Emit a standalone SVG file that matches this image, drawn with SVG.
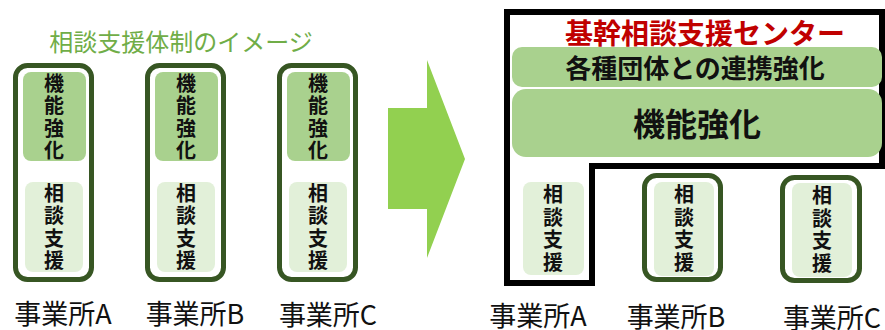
<svg xmlns="http://www.w3.org/2000/svg" width="885" height="330" viewBox="0 0 885 330">
<style>
text{font-family:"Noto Sans CJK JP","Noto Sans",sans-serif;text-anchor:middle;dominant-baseline:central}
.outer{fill:#fff;stroke:#375623;stroke-width:5}
.dk{fill:#a9d18e}
.lt{fill:#e2f0d9}
.v{font-size:20px;font-weight:bold;fill:#111}
.lbl{font-size:27px;fill:#111}
</style>
<rect width="885" height="330" fill="#fff"/>
<text x="181" y="40" font-size="24" fill="#70ad47">相談支援体制のイメージ</text>

<g id="officeA-left">
<rect class="outer" x="15.5" y="65.5" width="76" height="214" rx="12"/>
<rect class="dk" x="23" y="72" width="63" height="89" rx="8"/>
<rect class="lt" x="25" y="182" width="58" height="90" rx="8"/>
<text class="v" x="54" y="82">機</text><text class="v" x="54" y="104">能</text><text class="v" x="54" y="127">強</text><text class="v" x="54" y="149">化</text>
<text class="v" x="54" y="192">相</text><text class="v" x="54" y="214">談</text><text class="v" x="54" y="237">支</text><text class="v" x="54" y="259">援</text>
<text class="lbl" x="63" y="312">事業所A</text>
</g>
<g id="officeB-left" transform="translate(132,0)">
<rect class="outer" x="15.5" y="65.5" width="76" height="214" rx="12"/>
<rect class="dk" x="23" y="72" width="63" height="89" rx="8"/>
<rect class="lt" x="25" y="182" width="58" height="90" rx="8"/>
<text class="v" x="54" y="82">機</text><text class="v" x="54" y="104">能</text><text class="v" x="54" y="127">強</text><text class="v" x="54" y="149">化</text>
<text class="v" x="54" y="192">相</text><text class="v" x="54" y="214">談</text><text class="v" x="54" y="237">支</text><text class="v" x="54" y="259">援</text>
<text class="lbl" x="63" y="312">事業所B</text>
</g>
<g id="officeC-left" transform="translate(264,0)">
<rect class="outer" x="15.5" y="65.5" width="76" height="214" rx="12"/>
<rect class="dk" x="23" y="72" width="63" height="89" rx="8"/>
<rect class="lt" x="25" y="182" width="58" height="90" rx="8"/>
<text class="v" x="54" y="82">機</text><text class="v" x="54" y="104">能</text><text class="v" x="54" y="127">強</text><text class="v" x="54" y="149">化</text>
<text class="v" x="54" y="192">相</text><text class="v" x="54" y="214">談</text><text class="v" x="54" y="237">支</text><text class="v" x="54" y="259">援</text>
<text class="lbl" x="64" y="313">事業所C</text>
</g>

<g id="connectors">
<path d="M388,108 H427 V60 L465,159 L427,258 V209 H388 Z" fill="#92d050"/>
</g>

<g id="center">
<path d="M507,12 H882 V166 H592 V283 H507 Z" fill="#fff" stroke="#000" stroke-width="6"/>
<text x="705" y="32" font-size="28" font-weight="bold" fill="#c00000">基幹相談支援センター</text>
<rect class="dk" x="512" y="47" width="370" height="40" rx="10"/>
<text x="695" y="66" font-size="26" font-weight="bold" fill="#111">各種団体との連携強化</text>
<rect class="dk" x="512" y="89" width="370" height="68" rx="14"/>
<text x="697" y="122" font-size="32" font-weight="bold" fill="#111">機能強化</text>
<rect class="lt" x="523" y="182" width="61" height="93" rx="8"/>
<text class="v" x="553" y="193">相</text><text class="v" x="553" y="216">談</text><text class="v" x="553" y="238">支</text><text class="v" x="553" y="261">援</text>
<text class="lbl" x="538" y="314">事業所A</text>
</g>
<g id="officeB-right">
<rect class="outer" x="644.5" y="175.5" width="76" height="104" rx="12"/>
<rect class="lt" x="654" y="182" width="60" height="94" rx="8"/>
<text class="v" x="684" y="193">相</text><text class="v" x="684" y="216">談</text><text class="v" x="684" y="238">支</text><text class="v" x="684" y="261">援</text>
<text class="lbl" x="676" y="315">事業所B</text>
</g>
<g id="officeC-right">
<rect class="outer" x="782.5" y="177.5" width="77" height="103" rx="12"/>
<rect class="lt" x="792" y="183" width="60" height="94" rx="8"/>
<text class="v" x="822" y="194">相</text><text class="v" x="822" y="217">談</text><text class="v" x="822" y="239">支</text><text class="v" x="822" y="262">援</text>
<text class="lbl" x="832" y="316">事業所C</text>
</g>
</svg>
